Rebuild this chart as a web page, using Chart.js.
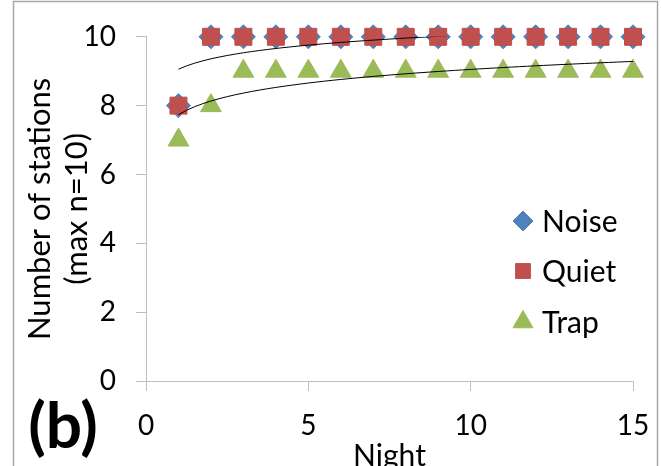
<!DOCTYPE html>
<html>
<head>
<meta charset="utf-8">
<script src="https://cdn.jsdelivr.net/npm/chart.js@4"></script>
<style>
  body { margin: 0; background: #fff; }
  canvas { display: block; }
</style>
</head>
<body>
<canvas id="myChart" width="661" height="466"></canvas>
<script>
// values
var nights = [1, 2, 3, 4, 5, 6, 7, 8, 9, 10, 11, 12, 13, 14, 15];
var noise = [8, 10, 10, 10, 10, 10, 10, 10, 10, 10, 10, 10, 10, 10, 10];
var quiet = [8, 10, 10, 10, 10, 10, 10, 10, 10, 10, 10, 10, 10, 10, 10];
var trap  = [7, 8, 9, 9, 9, 9, 9, 9, 9, 9, 9, 9, 9, 9, 9];
var xTicks = [0, 5, 10, 15];
var yTicks = [0, 2, 4, 6, 8, 10];

var FONT = 'Lato, "Open Sans", sans-serif';

function toPoints(xs, ys) {
    return xs.map(function (x, i) { return {x: x, y: ys[i]}; });
}

// logarithmic trendline y = a + b*ln(x), least squares like Excel does
function logTrend(xs, ys) {
    var n = xs.length, sx = 0, sy = 0, sxx = 0, sxy = 0;
    for (let i = 0; i < n; i++) {
        var lx = Math.log(xs[i]);
        sx += lx; sy += ys[i]; sxx += lx * lx; sxy += lx * ys[i];
    }
    var b = (n * sxy - sx * sy) / (n * sxx - sx * sx);
    var a = (sy - b * sx) / n;
    var pts = [];
    for (let i = 0; i < n - 1; i++) {
        for (let k = 0; k < 4; k++) {
            var x = xs[i] + (xs[i + 1] - xs[i]) * k / 4;
            pts.push({x: x, y: a + b * Math.log(x)});
        }
    }
    var last = xs[n - 1];
    pts.push({x: last, y: a + b * Math.log(last)});
    return pts;
}

function drawMarker(ctx, style, x, y, r, color) {
    if (Chart.helpers && Chart.helpers.drawPoint) {
        ctx.fillStyle = color;
        ctx.strokeStyle = color;
        ctx.lineWidth = 1;
        Chart.helpers.drawPoint(ctx, {pointStyle: style, radius: r, rotation: 0, borderWidth: 1}, x, y);
        return;
    }
    ctx.fillStyle = color;
    ctx.beginPath();
    if (style === 'rectRot') {
        ctx.moveTo(x - r, y); ctx.lineTo(x, y - r); ctx.lineTo(x + r, y); ctx.lineTo(x, y + r);
    } else if (style === 'rect') {
        var s = r * Math.SQRT1_2;
        ctx.rect(x - s, y - s, 2 * s, 2 * s);
    } else {
        ctx.moveTo(x, y - r);
        ctx.lineTo(x + r * 0.866, y + r * 0.5);
        ctx.lineTo(x - r * 0.866, y + r * 0.5);
    }
    ctx.closePath();
    ctx.fill();
}

// frame, "(b)" label and the legend inside the plot
var decorations = {
    id: 'decorations',
    beforeDraw: function (chart) {
        var ctx = chart.ctx;
        ctx.save();
        ctx.fillStyle = '#fff';
        ctx.fillRect(0, 0, chart.width, chart.height);
        ctx.strokeStyle = '#A6A6A6';
        ctx.lineWidth = 1.5;
        ctx.strokeRect(13.5, 1.5, 644, 520);
        ctx.restore();
    },
    afterDraw: function (chart) {
        var ctx = chart.ctx;
        ctx.save();
        ctx.fillStyle = '#000';
        ctx.font = 'bold 64px ' + FONT;
        ctx.textAlign = 'center';
        ctx.textBaseline = 'middle';
        ctx.fillText('(b)', 63, 427);

        var rows = [221, 271, 322];
        var sizes = [10, 10.5, 11.5];
        for (let i = 0; i < 3; i++) {
            var ds = chart.data.datasets[i];
            drawMarker(ctx, ds.pointStyle, 523, rows[i], sizes[i], ds.backgroundColor);
            ctx.fillStyle = '#000';
            ctx.font = '30px ' + FONT;
            ctx.textAlign = 'left';
            ctx.fillText(ds.label, 542, rows[i] + 1);
        }
        ctx.restore();
    }
};

const ctx = document.getElementById('myChart').getContext('2d');
const myChart = new Chart(ctx, {
    type: 'scatter',
    data: {
        datasets: [{
            label: 'Noise',
            data: toPoints(nights, noise),
            pointStyle: 'rectRot',
            pointRadius: 12,
            backgroundColor: '#4F81BD',
            borderColor: '#4F81BD',
            borderWidth: 1,
            clip: false,
            order: 3
        }, {
            label: 'Quiet',
            data: toPoints(nights, quiet),
            pointStyle: 'rect',
            pointRadius: 12,
            backgroundColor: '#C0504D',
            borderColor: '#C0504D',
            borderWidth: 1,
            clip: false,
            order: 2
        }, {
            label: 'Trap',
            data: toPoints(nights, trap),
            pointStyle: 'triangle',
            pointRadius: 12,
            backgroundColor: '#9BBB59',
            borderColor: '#9BBB59',
            borderWidth: 1,
            clip: false,
            order: 1
        }, {
            label: 'trend noise',
            data: logTrend(nights, noise),
            showLine: true,
            pointRadius: 0,
            borderColor: '#000',
            borderWidth: 1,
            tension: 0,
            order: 0
        }, {
            label: 'trend trap',
            data: logTrend(nights, trap),
            showLine: true,
            pointRadius: 0,
            borderColor: '#000',
            borderWidth: 1,
            tension: 0,
            order: 0
        }]
    },
    options: {
        responsive: false,
        animation: false,
        layout: {
            padding: {left: 0, right: 28, top: 34, bottom: 0}
        },
        plugins: {
            legend: {display: false},
            tooltip: {enabled: false}
        },
        scales: {
            x: {
                type: 'linear',
                min: 0,
                max: 15,
                afterBuildTicks: function (scale) {
                    scale.ticks = xTicks.map(function (v) { return {value: v}; });
                },
                afterFit: function (scale) {
                    scale.height = 85;
                    scale.paddingLeft = 0;
                    scale.paddingRight = 0;
                },
                grid: {drawOnChartArea: false, drawTicks: true, tickLength: 10, color: '#BFBFBF'},
                border: {color: '#BFBFBF', width: 1},
                ticks: {color: '#000', font: {family: FONT, size: 28}, padding: 18, maxRotation: 0},
                title: {
                    display: true,
                    text: 'Night',
                    color: '#000',
                    font: {family: FONT, size: 30, lineHeight: 0.65},
                    padding: {top: 0, bottom: 0}
                }
            },
            y: {
                type: 'linear',
                min: 0,
                max: 10,
                afterBuildTicks: function (scale) {
                    scale.ticks = yTicks.map(function (v) { return {value: v}; });
                },
                afterFit: function (scale) { scale.width = 146; },
                grid: {drawOnChartArea: false, drawTicks: true, tickLength: 10, color: '#BFBFBF'},
                border: {color: '#BFBFBF', width: 1},
                ticks: {color: '#000', font: {family: FONT, size: 28}, padding: 20},
                title: {
                    display: true,
                    text: ['Number of stations', '(max n=10)'],
                    color: '#000',
                    font: {family: FONT, size: 31, lineHeight: 1.2},
                    padding: {top: 21, bottom: 0}
                }
            }
        }
    },
    plugins: [decorations]
});
</script>
</body>
</html>
